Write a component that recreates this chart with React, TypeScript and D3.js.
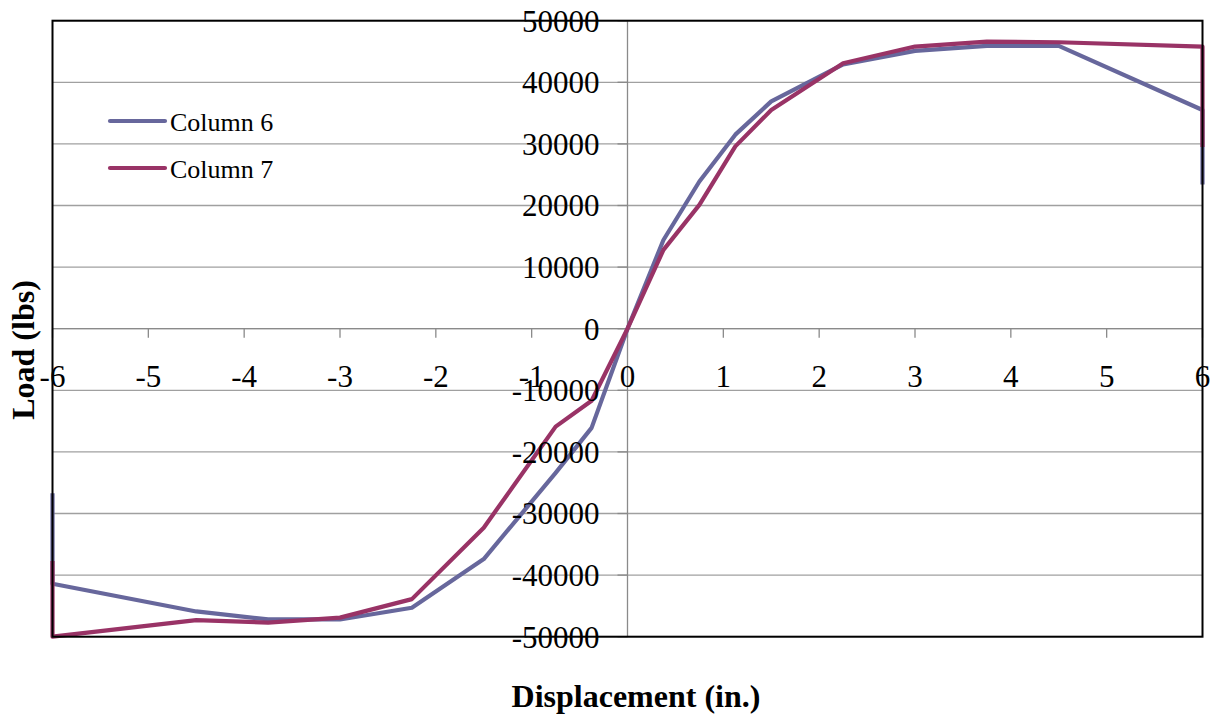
import React from "react";
import * as d3 from "d3";

const displacement = [-6, -6, -4.5, -3.75, -3, -2.25, -1.5, -0.75, -0.375, 0, 0.375, 0.75, 1.125, 1.5, 2.25, 3, 3.75, 4.5, 6, 6];
const column6 = [-26700, -41400, -45900, -47200, -47200, -45300, -37400, -23400, -16100, 0, 14400, 23900, 31500, 36900, 42900, 45100, 45900, 45900, 35500, 23400];
const column7 = [-37700, -50000, -47300, -47700, -46900, -43900, -32300, -15900, -11700, 0, 12800, 20100, 29600, 35500, 43100, 45800, 46600, 46500, 45800, 29500];
const xTicks = [-6, -5, -4, -3, -2, -1, 0, 1, 2, 3, 4, 5, 6];
const yTicks = [-50000, -40000, -30000, -20000, -10000, 0, 10000, 20000, 30000, 40000, 50000];
const seriesNames = ["Column 6", "Column 7"];
const seriesColors = ["#67679c", "#993366"];

export default function App() {
  const W = 1211, H = 717;
  const left = 52.5, right = 1202.5, top = 20.7, bottom = 636.7;
  const x = d3.scaleLinear().domain([-6, 6]).range([left, right]);
  const y = d3.scaleLinear().domain([-50000, 50000]).range([bottom, top]);
  const font = "'Liberation Serif', 'Times New Roman', serif";
  const series = [column6, column7];
  const line = d3.line<[number, number]>().x(d => x(d[0])).y(d => y(d[1]));
  const x0 = x(0), y0 = y(0);

  return (
    <svg width={W} height={H} style={{ position: "absolute", left: 0, top: 0, background: "#fff" }} fontFamily={font}>
      <rect x={0} y={0} width={W} height={H} fill="#fff" />
      {/* gridlines */}
      {yTicks.map(t => (
        <line key={"g" + t} x1={left} x2={right} y1={y(t)} y2={y(t)} stroke="#a0a0a0" strokeWidth={1.3} />
      ))}
      {/* y axis at x=0 */}
      <line x1={x0} x2={x0} y1={top} y2={bottom} stroke="#8a8a8a" strokeWidth={1.3} />
      {yTicks.map(t => (
        <line key={"yt" + t} x1={x0 - 10} x2={x0} y1={y(t)} y2={y(t)} stroke="#8a8a8a" strokeWidth={1.3} />
      ))}
      {/* x axis at y=0 */}
      <line x1={left} x2={right} y1={y0} y2={y0} stroke="#8a8a8a" strokeWidth={1.3} />
      {xTicks.map(t => (
        <line key={"xt" + t} x1={x(t)} x2={x(t)} y1={y0} y2={y0 + 9} stroke="#8a8a8a" strokeWidth={1.3} />
      ))}
      {/* series */}
      {series.map((s, i) => (
        <path key={"s" + i}
          d={line(displacement.map((d, j) => [d, s[j]] as [number, number])) || ""}
          fill="none" stroke={seriesColors[i]} strokeWidth={4.2} strokeLinejoin="round" />
      ))}
      {/* plot border */}
      <rect x={left} y={top} width={right - left} height={bottom - top} fill="none" stroke="#000" strokeWidth={2} />
      {/* y tick labels */}
      {yTicks.map(t => (
        <text key={"yl" + t} x={x0 - 28} y={y(t)} dy="0.35em" textAnchor="end" fontSize={31} fill="#000">{t}</text>
      ))}
      {/* x tick labels */}
      {xTicks.map(t => (
        <text key={"xl" + t} x={x(t)} y={y0 + 58} textAnchor="middle" fontSize={31} fill="#000">{t}</text>
      ))}
      {/* legend */}
      {seriesNames.map((n, i) => (
        <g key={"lg" + i}>
          <line x1={110} x2={165} y1={121 + i * 47} y2={121 + i * 47} stroke={seriesColors[i]} strokeWidth={4.2} strokeLinecap="round" />
          <text x={170} y={131 + i * 47} fontSize={26} fill="#000">{n}</text>
        </g>
      ))}
      {/* axis titles */}
      <text x={636} y={707} textAnchor="middle" fontSize={32} fontWeight="bold" fill="#000">Displacement (in.)</text>
      <text transform={`translate(34, 350) rotate(-90)`} textAnchor="middle" fontSize={32} fontWeight="bold" fill="#000">Load (lbs)</text>
    </svg>
  );
}
